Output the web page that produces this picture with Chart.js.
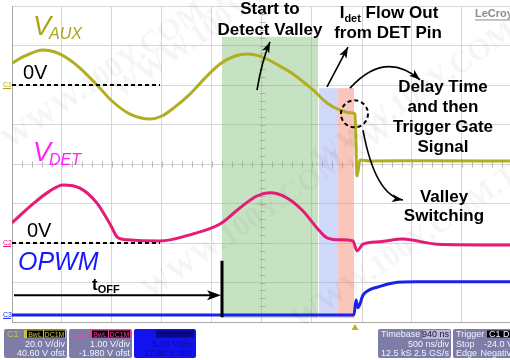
<!DOCTYPE html>
<html>
<head>
<meta charset="utf-8">
<script src="https://cdn.jsdelivr.net/npm/chart.js@4.4.1/dist/chart.umd.min.js"></script>
<style>
  html, body { margin: 0; padding: 0; background: #fff; }
  #wrap { width: 510px; height: 360px; }
</style>
</head>
<body>
<div id="wrap"><canvas id="scope" width="510" height="360"></canvas></div>
<script>
// time in microseconds (500 ns/div, 10 div on screen)
const auxTime  = [0, 0.13, 0.31, 0.43, 0.55, 0.68, 0.85, 1.00, 1.18, 1.38, 1.50, 1.63, 1.78, 1.93, 2.08, 2.23, 2.36, 2.50, 2.66, 2.81, 3.01, 3.15, 3.28, 3.41, 3.43, 3.45, 3.48, 3.58, 4.20, 4.98];
const auxVolts = [11.1, 14.7, 17.7, 16.7, 13.7, 8.6, 0, -8.1, -14.7, -17.2, -15.7, -11.1, -4.6, 3.5, 10.6, 14.7, 15.7, 14.2, 10.1, 5.6, -2.5, -9.1, -12.7, -14.2, -14.7, -46.1, -38.0, -38.5, -38.3, -38.5];

const detTime  = [0, 0.21, 0.38, 0.51, 0.68, 0.85, 0.98, 1.06, 1.15, 1.48, 1.81, 2.08, 2.28, 2.45, 2.58, 2.75, 2.91, 3.05, 3.15, 3.28, 3.41, 3.45, 3.51, 3.68, 3.91, 4.25, 4.98];
const detVolts = [0.51, 0.99, 1.32, 1.47, 1.39, 1.01, 0.48, 0.13, 0.08, 0.05, 0.23, 0.48, 0.89, 1.19, 1.27, 1.14, 0.81, 0.38, 0.13, 0.08, 0.05, -0.20, -0.03, 0.03, 0.10, -0.03, -0.05];

const pwmTime  = [0, 3.42, 3.44, 3.46, 3.51, 3.58, 3.65, 3.81, 4.05, 4.98];
const pwmVolts = [0, 0, 1.9, 0.9, 2.5, 3.2, 3.5, 4.05, 4.18, 4.18];

// shaded phases (time in us, height in divisions)
const bands = [
  { from: 2.10, to: 3.06, top: 7.22, color: 'rgba(120,185,110,0.42)' },
  { from: 3.07, to: 3.26, top: 5.92, color: 'rgba(150,170,245,0.45)' },
  { from: 3.26, to: 3.42, top: 5.92, color: 'rgba(245,140,120,0.5)' }
];

const notes = [
  { text: 'Start to', t: 2.58, d: 7.80 },
  { text: 'Detect Valley', t: 2.58, d: 7.27 },
  { text: 'from DET Pin', t: 3.76, d: 7.19 },
  { text: 'Delay Time', t: 4.31, d: 5.82 },
  { text: 'and then', t: 4.31, d: 5.32 },
  { text: 'Trigger Gate', t: 4.31, d: 4.81 },
  { text: 'Signal', t: 4.31, d: 4.30 },
  { text: 'Valley', t: 4.32, d: 3.04 },
  { text: 'Switching', t: 4.32, d: 2.56 }
];

const arrows = [
  { from: [2.45, 5.87], ctrl: [2.50, 6.63], to: [2.58, 7.09] },
  { from: [3.15, 5.95], ctrl: null, to: [3.36, 6.96] },
  { from: [3.38, 5.92], ctrl: [3.73, 6.89], to: [4.08, 6.13] },
  { from: [3.51, 4.86], ctrl: [3.63, 3.21], to: [3.91, 3.09] }
];

const BOLD = 'bold 17px "Liberation Sans", Arial, sans-serif';
const SUB = 'bold 11px "Liberation Sans", Arial, sans-serif';

function head(ctx, x, y, ang, len, wid) {
  ctx.save();
  ctx.translate(x, y);
  ctx.rotate(ang);
  ctx.beginPath();
  ctx.moveTo(0, 0);
  ctx.lineTo(-len, -wid / 2);
  ctx.lineTo(-len * 0.75, 0);
  ctx.lineTo(-len, wid / 2);
  ctx.closePath();
  ctx.fill();
  ctx.restore();
}

function box(ctx, x, y, w, h, fill) {
  ctx.fillStyle = fill;
  ctx.beginPath();
  ctx.roundRect(x, y, w, h, 2);
  ctx.fill();
}

const scopeDecor = {
  id: 'scopeDecor',
  beforeDatasetsDraw(chart) {
    const { ctx, chartArea: a, scales } = chart;
    const X = t => scales.x.getPixelForValue(t);
    const Y = d => scales.yDiv.getPixelForValue(d);
    ctx.save();
    // minor ticks on the centre cross
    ctx.strokeStyle = '#b8b8b8';
    ctx.lineWidth = 1;
    const cx = Math.round(X(2.5)) + 0.5, cy = Math.round(Y(4)) + 0.5;
    for (let i = 0; i <= 40; i++) {
      const y = Math.round(Y(i / 5)) + 0.5;
      ctx.beginPath(); ctx.moveTo(cx - 3, y); ctx.lineTo(cx + 3, y); ctx.stroke();
    }
    for (let i = 0; i <= 50; i++) {
      const x = Math.round(X(i * 0.1)) + 0.5;
      ctx.beginPath(); ctx.moveTo(x, cy - 3); ctx.lineTo(x, cy + 3); ctx.stroke();
    }
    // frame edges
    ctx.strokeStyle = '#a8a8a8';
    ctx.beginPath();
    ctx.moveTo(a.left + 0.5, a.top); ctx.lineTo(a.left + 0.5, a.bottom);
    ctx.moveTo(a.left, a.bottom + 0.5); ctx.lineTo(a.right, a.bottom + 0.5);
    ctx.stroke();
    // phase bands
    bands.forEach(b => {
      ctx.fillStyle = b.color;
      ctx.fillRect(X(b.from), Y(b.top), X(b.to) - X(b.from), Y(0.1) - Y(b.top));
    });
    ctx.restore();
  },
  afterDatasetsDraw(chart) {
    const { ctx, scales } = chart;
    const X = t => scales.x.getPixelForValue(t);
    const Y = d => scales.yDiv.getPixelForValue(d);
    ctx.save();

    // 0 V reference lines
    ctx.strokeStyle = '#000';
    ctx.lineWidth = 2;
    ctx.setLineDash([4, 3]);
    [scales.yAux, scales.yDet].forEach(s => {
      const y = s.getPixelForValue(0);
      ctx.beginPath(); ctx.moveTo(X(0), y); ctx.lineTo(X(1.48), y); ctx.stroke();
    });
    // dashed circle at the trigger point
    ctx.beginPath();
    ctx.arc(X(3.425), Y(5.27), 13.5, 0, Math.PI * 2);
    ctx.stroke();
    ctx.setLineDash([]);

    // channel labels
    ctx.textBaseline = 'alphabetic';
    ctx.textAlign = 'left';
    const label = (main, sub, t, d, color) => {
      ctx.fillStyle = color;
      ctx.font = 'italic 27px "Liberation Sans", Arial, sans-serif';
      ctx.fillText(main, X(t), Y(d));
      const w = ctx.measureText(main).width;
      ctx.font = 'italic 16px "Liberation Sans", Arial, sans-serif';
      ctx.fillText(sub, X(t) + w - 2, Y(d) + 4);
    };
    label('V', 'AUX', 0.21, 7.27, '#a9a51a');
    label('V', 'DET', 0.21, 4.08, '#ff22ff');
    ctx.fillStyle = '#1717ff';
    ctx.font = 'italic 25px "Liberation Sans", Arial, sans-serif';
    ctx.fillText('OPWM', X(0.06), Y(1.32));
    ctx.fillStyle = '#000';
    ctx.font = '20px "Liberation Sans", Arial, sans-serif';
    ctx.fillText('0V', X(0.11), Y(6.15));
    ctx.fillText('0V', X(0.15), Y(2.15));

    // t_OFF arrow and gate edge
    ctx.font = BOLD;
    ctx.fillText('t', X(0.80), Y(0.81));
    const tw = ctx.measureText('t').width;
    ctx.font = SUB;
    ctx.fillText('OFF', X(0.80) + tw, Y(0.81) + 3);
    ctx.strokeStyle = '#000';
    ctx.lineWidth = 2;
    ctx.beginPath(); ctx.moveTo(X(0.02), Y(0.68)); ctx.lineTo(X(2.02), Y(0.68)); ctx.stroke();
    ctx.fillStyle = '#000';
    head(ctx, X(2.09), Y(0.68), 0, 14, 10);
    ctx.lineWidth = 3;
    ctx.beginPath(); ctx.moveTo(X(2.10), Y(1.55)); ctx.lineTo(X(2.10), Y(0.12)); ctx.stroke();

    // annotation text
    ctx.textAlign = 'center';
    ctx.font = BOLD;
    notes.forEach(n => ctx.fillText(n.text, X(n.t), Y(n.d)));
    // "Idet Flow Out" with subscript
    ctx.textAlign = 'left';
    const w1 = ctx.measureText('I').width, w3 = ctx.measureText(' Flow Out').width;
    ctx.font = SUB;
    const w2 = ctx.measureText('det').width;
    let x0 = X(3.77) - (w1 + w2 + w3) / 2;
    const yb = Y(7.70);
    ctx.font = BOLD; ctx.fillText('I', x0, yb);
    ctx.font = SUB; ctx.fillText('det', x0 + w1, yb + 4);
    ctx.font = BOLD; ctx.fillText(' Flow Out', x0 + w1 + w2, yb);

    // arrows
    ctx.lineWidth = 1.6;
    arrows.forEach(a => {
      const p0 = [X(a.from[0]), Y(a.from[1])], p2 = [X(a.to[0]), Y(a.to[1])];
      const p1 = a.ctrl ? [X(a.ctrl[0]), Y(a.ctrl[1])] : p0;
      ctx.beginPath();
      ctx.moveTo(p0[0], p0[1]);
      ctx.quadraticCurveTo(p1[0], p1[1], p2[0], p2[1]);
      ctx.stroke();
      head(ctx, p2[0], p2[1], Math.atan2(p2[1] - p1[1], p2[0] - p1[0]), 11, 8);
    });

    // LeCroy mark
    ctx.font = 'bold 11px "Liberation Sans", Arial, sans-serif';
    ctx.fillStyle = '#8c8c8c';
    ctx.fillText('LeCroy', X(4.63), Y(7.71));
    ctx.fillRect(X(4.63), Y(7.71) + 2, ctx.measureText('LeCroy').width, 1);

    // faint watermark
    ctx.font = 'bold 30px "Liberation Serif", serif';
    ctx.fillStyle = 'rgba(0,0,0,0.04)';
    [[10, 150], [150, 300], [300, 330], [320, 170], [120, 100]].forEach(p => {
      ctx.save();
      ctx.translate(p[0], p[1]);
      ctx.rotate(-0.6);
      ctx.fillText('WWW.100Y.COM.TW', 0, 0);
      ctx.restore();
    });
    ctx.restore();
  },
  afterDraw(chart) {
    const { ctx, chartArea: a, scales } = chart;
    ctx.save();
    // channel ground markers on the left edge
    ctx.font = '7px "Liberation Sans", Arial, sans-serif';
    ctx.textAlign = 'left';
    [['C1', scales.yAux, '#a9a51a'], ['C2', scales.yDet, '#e6177a'], ['C3', scales.yPwm, '#1a22e6']].forEach(m => {
      const y = m[1].getPixelForValue(0);
      ctx.fillStyle = m[2];
      ctx.fillText(m[0], 3, y + 2);
      ctx.fillRect(3, y + 3, 8, 1);
    });
    // trigger position marker
    const tx = scales.x.getPixelForValue(3.43);
    ctx.fillStyle = '#b8b020';
    ctx.beginPath();
    ctx.moveTo(tx, a.bottom + 2); ctx.lineTo(tx - 3.5, a.bottom + 8); ctx.lineTo(tx + 3.5, a.bottom + 8);
    ctx.closePath(); ctx.fill();

    // readout boxes
    const F = '9px "Liberation Sans", Arial, sans-serif';
    ctx.font = F;
    const txt = (s, x, y, c, al) => { ctx.fillStyle = c; ctx.textAlign = al || 'left'; ctx.fillText(s, x, y); };
    const chBox = (x, name, col, l1, l2) => {
      box(ctx, x, 329, 63, 29, '#7d7da8');
      ctx.fillStyle = col; ctx.fillRect(x + 20, 330, 42, 8);
      ctx.fillStyle = '#000'; ctx.fillRect(x + 23, 330.5, 16, 7); ctx.fillRect(x + 40, 330.5, 21, 7);
      txt(name, x + 3, 337, col);
      ctx.font = '7px "Liberation Sans", Arial, sans-serif';
      txt('BwL', x + 31, 336.5, col, 'center');
      txt('DC1M', x + 50.5, 336.5, col, 'center');
      ctx.font = F;
      txt(l1, x + 61, 347, '#f2f2ff', 'right');
      txt(l2, x + 61, 356, '#f2f2ff', 'right');
    };
    chBox(4, 'C1', '#c9c530', '20.0 V/div', '40.60 V ofst');
    chBox(69, 'C2', '#e8409a', '1.00 V/div', '-1.980 V ofst');
    box(ctx, 134, 329, 62, 29, '#1212ee');
    ctx.fillStyle = '#0a0a80'; ctx.fillRect(156, 330.5, 38, 7);
    txt('5.00 V/div', 192, 347, '#0c0ca8', 'right');
    txt('17.90 V ofst', 192, 356, '#0c0ca8', 'right');

    box(ctx, 378, 329, 73, 29, '#7d7da8');
    ctx.fillStyle = '#b8b8d4'; ctx.fillRect(423, 330, 27, 9);
    txt('Timebase', 381, 337, '#f2f2ff');
    txt('940 ns', 449, 337, '#20203a', 'right');
    txt('500 ns/div', 449, 347, '#f2f2ff', 'right');
    txt('12.5 kS', 381, 356, '#f2f2ff');
    txt('2.5 GS/s', 449, 356, '#f2f2ff', 'right');

    box(ctx, 453, 329, 62, 29, '#7d7da8');
    ctx.fillStyle = '#000'; ctx.fillRect(487, 330.5, 26, 7);
    txt('Trigger', 456, 337, '#f2f2ff');
    txt('C1 DC', 489, 337, '#f2f2ff');
    txt('Stop', 456, 347, '#f2f2ff');
    txt('-24.0 V', 513, 347, '#f2f2ff', 'right');
    txt('Edge', 456, 356, '#f2f2ff');
    txt('Negative', 516, 356, '#f2f2ff', 'right');
    ctx.restore();
  }
};

const pts = (ts, vs) => ts.map((t, i) => ({ x: t, y: vs[i] }));
const trace = { pointRadius: 0, borderWidth: 3, fill: false, cubicInterpolationMode: 'monotone' };

new Chart(document.getElementById('scope'), {
  type: 'line',
  data: {
    datasets: [
      Object.assign({ label: 'VAUX', data: pts(auxTime, auxVolts), yAxisID: 'yAux', borderColor: '#b0ae22' }, trace),
      Object.assign({ label: 'VDET', data: pts(detTime, detVolts), yAxisID: 'yDet', borderColor: '#e41c78' }, trace),
      Object.assign({ label: 'OPWM', data: pts(pwmTime, pwmVolts), yAxisID: 'yPwm', borderColor: '#1a22e6' }, trace)
    ]
  },
  options: {
    responsive: false,
    animation: false,
    devicePixelRatio: 1,
    layout: { padding: { left: 12, top: 6, right: 0, bottom: 38 } },
    plugins: { legend: { display: false }, tooltip: { enabled: false } },
    scales: {
      x: {
        type: 'linear', min: 0, max: 4.98,
        ticks: { display: false, stepSize: 0.5 },
        grid: {
          drawTicks: false,
          color: c => (c.tick && Math.abs(c.tick.value * 2 - Math.round(c.tick.value * 2)) < 0.01) ? '#d6d6d6' : 'rgba(0,0,0,0)'
        },
        border: { display: false }
      },
      yDiv: {
        position: 'left', min: 0, max: 8,
        ticks: { display: false, stepSize: 1 },
        grid: { drawTicks: false, color: '#d6d6d6' },
        border: { display: false }
      },
      yAux: { display: false, min: -120, max: 40 },
      yDet: { display: false, min: -2, max: 6 },
      yPwm: { display: false, min: -0.9, max: 39.1 }
    }
  },
  plugins: [scopeDecor]
});
</script>
</body>
</html>
